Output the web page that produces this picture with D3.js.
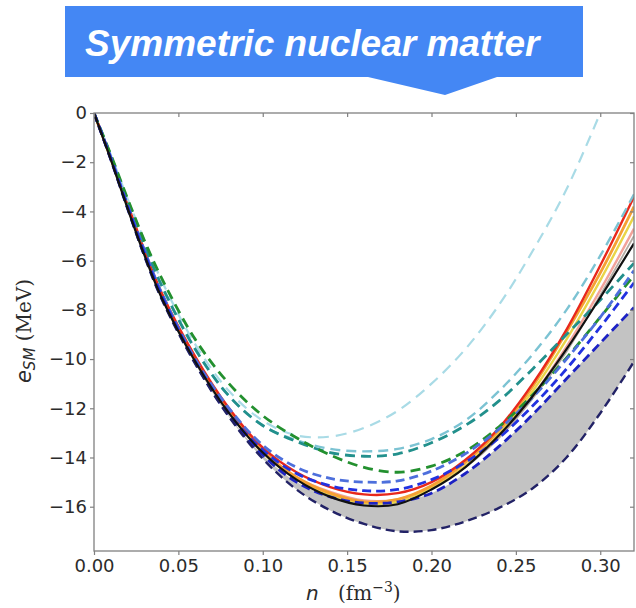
<!DOCTYPE html>
<html>
<head>
<meta charset="utf-8">
<script src="https://cdn.jsdelivr.net/npm/d3@7"></script>
<style>
  html, body { margin: 0; padding: 0; background: #fff; }
  svg { display: block; }
</style>
</head>
<body>
<svg id="chart" width="636" height="608"></svg>
<script>
// Energy per nucleon of symmetric nuclear matter, e_SM(n), for a set of models.
const densities = [0, 0.01, 0.02, 0.03, 0.04, 0.06, 0.08, 0.10, 0.12, 0.14, 0.16, 0.18, 0.20, 0.22, 0.24, 0.26, 0.28, 0.30, 0.32];

// solid curves (MeV)
const blackSolid  = [0, -1.9, -3.9, -5.8, -7.5, -10.1, -12.2, -13.8, -14.9, -15.6, -15.95, -15.9, -15.3, -14.4, -13.1, -11.5, -9.6, -7.5, -5.3];
const redSolid    = [0, -1.8, -3.7, -5.6, -7.3, -9.9, -12.0, -13.6, -14.6, -15.2, -15.5, -15.45, -15.0, -14.1, -12.8, -11.0, -8.8, -6.2, -3.4];
const orangeSolid = [0, -1.85, -3.8, -5.7, -7.4, -10.0, -12.1, -13.75, -14.8, -15.45, -15.8, -15.7, -15.15, -14.2, -12.9, -11.1, -8.9, -6.5, -3.8];
const yellowSolid = [0, -1.85, -3.8, -5.7, -7.4, -10.0, -12.1, -13.8, -14.85, -15.5, -15.85, -15.8, -15.25, -14.35, -13.05, -11.3, -9.2, -6.8, -4.2];
const salmonSolid = [0, -1.85, -3.8, -5.7, -7.4, -10.0, -12.1, -13.7, -14.8, -15.4, -15.75, -15.7, -15.2, -14.35, -13.1, -11.5, -9.5, -7.2, -4.7];
const silverSolid = [0, -1.85, -3.85, -5.75, -7.45, -10.05, -12.15, -13.75, -14.85, -15.5, -15.8, -15.8, -15.25, -14.4, -13.2, -11.6, -9.7, -7.4, -5.0];

// dashed curves (MeV)
const paleCyanDash  = [0, -1.7, -3.5, -5.2, -6.8, -9.4, -11.3, -12.5, -13.1, -13.15, -12.8, -12.1, -11.0, -9.6, -7.8, -5.6, -3.1, 0.0, null];
const lightCyanDash = [0, -1.75, -3.6, -5.4, -7.0, -9.6, -11.5, -12.7, -13.3, -13.65, -13.75, -13.65, -13.25, -12.5, -11.3, -9.8, -8.0, -5.8, -3.3];
const tealDash      = [0, -1.75, -3.6, -5.4, -7.0, -9.6, -11.5, -12.7, -13.35, -13.8, -13.95, -13.85, -13.4, -12.7, -11.7, -10.4, -9.0, -7.6, -6.1];
const greenDash     = [0, -1.7, -3.5, -5.2, -6.7, -9.2, -11.0, -12.3, -13.2, -13.9, -14.4, -14.6, -14.35, -13.75, -12.75, -11.45, -9.95, -8.3, -6.6];
const blueDashA     = [0, -1.8, -3.75, -5.6, -7.3, -10.0, -12.0, -13.5, -14.4, -14.85, -15.0, -14.95, -14.55, -13.85, -12.85, -11.55, -10.0, -8.3, -6.4];
const blueDashB     = [0, -1.85, -3.8, -5.7, -7.4, -10.1, -12.2, -13.7, -14.65, -15.15, -15.35, -15.3, -14.9, -14.2, -13.2, -11.9, -10.4, -8.7, -6.9];
const blueDashC     = [0, -1.9, -3.9, -5.8, -7.5, -10.15, -12.3, -13.9, -15.0, -15.6, -15.85, -15.8, -15.45, -14.65, -13.55, -12.25, -10.8, -9.35, -7.9];
const navyDash      = [0, -1.9, -3.9, -5.85, -7.55, -10.2, -12.35, -14.05, -15.3, -16.15, -16.7, -17.0, -16.95, -16.6, -16.05, -15.25, -14.0, -12.2, -10.1];

// axis ticks
const xTicks = [0, 0.05, 0.10, 0.15, 0.20, 0.25, 0.30];
const yTicks = [0, -2, -4, -6, -8, -10, -12, -14, -16];

const titleText = "Symmetric nuclear matter";

const svg = d3.select("#chart");
const plot = { left: 94, right: 634, top: 113, bottom: 551 };

const x = d3.scaleLinear().domain([0, 0.32]).range([plot.left, plot.right]);
const y = d3.scaleLinear().domain([-17.8, 0]).range([plot.bottom, plot.top]);

const pairs = vals => densities.map((n, i) => [n, vals[i]]);
const curve = d3.curveCatmullRom.alpha(0.5);
const line = d3.line()
  .defined(d => d[1] != null)
  .x(d => x(d[0])).y(d => y(d[1]))
  .curve(curve);

svg.append("defs").append("clipPath").attr("id", "plotClip")
  .append("rect")
  .attr("x", plot.left).attr("y", plot.top)
  .attr("width", plot.right - plot.left).attr("height", plot.bottom - plot.top);

const g = svg.append("g").attr("clip-path", "url(#plotClip)");

// shaded band between the lower two blue curves
const band = d3.area()
  .x((d, i) => x(densities[i]))
  .y0((d, i) => y(navyDash[i]))
  .y1((d, i) => y(blueDashC[i]))
  .curve(curve);
g.append("path").datum(densities).attr("d", band).attr("fill", "#c3c3c3");

const solidSeries = [
  { vals: silverSolid, color: "#b4aca4", width: 1.8 },
  { vals: salmonSolid, color: "#f2a39a", width: 2.4 },
  { vals: yellowSolid, color: "#e9d548", width: 2.4 },
  { vals: orangeSolid, color: "#f5a033", width: 2.8 },
  { vals: redSolid,    color: "#e8281c", width: 2.4 }
];
const dashedSeries = [
  { vals: paleCyanDash,  color: "#a9dbe6", width: 2.2, dash: "11,7" },
  { vals: lightCyanDash, color: "#7cc3d3", width: 2.4, dash: "10,6" },
  { vals: tealDash,      color: "#22908c", width: 2.8, dash: "10,6" },
  { vals: greenDash,     color: "#23902f", width: 2.8, dash: "10,6" },
  { vals: blueDashA,     color: "#4d6fdc", width: 2.8, dash: "9,5" },
  { vals: blueDashB,     color: "#2232e0", width: 2.8, dash: "9,5" },
  { vals: blueDashC,     color: "#1c22c4", width: 2.8, dash: "9,5" },
  { vals: navyDash,      color: "#222266", width: 2.4, dash: "9,5" }
];

solidSeries.forEach(s => {
  g.append("path").datum(pairs(s.vals)).attr("d", line)
    .attr("fill", "none").attr("stroke", s.color).attr("stroke-width", s.width);
});
dashedSeries.forEach(s => {
  g.append("path").datum(pairs(s.vals)).attr("d", line)
    .attr("fill", "none").attr("stroke", s.color).attr("stroke-width", s.width)
    .attr("stroke-dasharray", s.dash);
});
g.append("path").datum(pairs(blackSolid)).attr("d", line)
  .attr("fill", "none").attr("stroke", "#111").attr("stroke-width", 2.2);

// axes
const axisColor = "#808080";
const fmtY = d => d === 0 ? "0" : "\u2212" + Math.abs(d);
const fmtX = d3.format(".2f");

const axisL = svg.append("g").attr("transform", `translate(${plot.left},0)`)
  .call(d3.axisLeft(y).tickValues(yTicks).tickSize(4).tickPadding(3).tickFormat(fmtY));
const axisB = svg.append("g").attr("transform", `translate(0,${plot.bottom})`)
  .call(d3.axisBottom(x).tickValues(xTicks).tickSize(4).tickPadding(4).tickFormat(fmtX));
const axisT = svg.append("g").attr("transform", `translate(0,${plot.top})`)
  .call(d3.axisTop(x).tickValues(xTicks).tickSize(-4).tickFormat(""));
const axisR = svg.append("g").attr("transform", `translate(${plot.right},0)`)
  .call(d3.axisRight(y).tickValues(yTicks).tickSize(-4).tickFormat(""));

[axisL, axisB, axisT, axisR].forEach(a => {
  a.select(".domain").remove();
  a.selectAll(".tick line").attr("stroke", axisColor).attr("stroke-width", 1.2);
  a.selectAll(".tick text")
    .attr("fill", "#2b2b2b")
    .style("font-family", "'DejaVu Sans', sans-serif")
    .style("font-size", "18px");
});

svg.append("rect")
  .attr("x", plot.left).attr("y", plot.top)
  .attr("width", plot.right - plot.left).attr("height", plot.bottom - plot.top)
  .attr("fill", "none").attr("stroke", axisColor).attr("stroke-width", 1.3);

// axis labels
const xl = svg.append("text").attr("y", 600).attr("fill", "#2b2b2b");
xl.append("tspan").attr("x", 306)
  .style("font-family", "'DejaVu Sans', sans-serif").style("font-style", "italic").style("font-size", "20px")
  .text("n");
xl.append("tspan").attr("x", 338)
  .style("font-family", "'DejaVu Serif', serif").style("font-size", "20px")
  .text("(fm");
xl.append("tspan").attr("dy", -8)
  .style("font-family", "'DejaVu Serif', serif").style("font-size", "14px")
  .text("\u22123");
xl.append("tspan").attr("dy", 8)
  .style("font-family", "'DejaVu Serif', serif").style("font-size", "20px")
  .text(")");

const yl = svg.append("text")
  .attr("transform", "translate(31,331) rotate(-90)")
  .attr("text-anchor", "middle").attr("fill", "#2b2b2b");
yl.append("tspan")
  .style("font-family", "'DejaVu Sans', sans-serif").style("font-style", "italic").style("font-size", "21px")
  .text("e");
yl.append("tspan").attr("dy", 4)
  .style("font-family", "'DejaVu Sans', sans-serif").style("font-style", "italic").style("font-size", "15px")
  .text("SM");
yl.append("tspan").attr("dy", -4)
  .style("font-family", "'DejaVu Serif', serif").style("font-size", "20px")
  .text(" (MeV)");

// title callout
const banner = { x0: 65, x1: 583, y0: 6, y1: 77, p0: 368, tip: 445, p1: 497, tipY: 95 };
svg.append("path")
  .attr("d", `M${banner.x0},${banner.y0}H${banner.x1}V${banner.y1}H${banner.p1}L${banner.tip},${banner.tipY}L${banner.p0},${banner.y1}H${banner.x0}Z`)
  .attr("fill", "#4487f4");
svg.append("text")
  .attr("x", 85).attr("y", 56)
  .attr("fill", "#fff")
  .style("font-family", "'Liberation Sans', Arial, sans-serif")
  .style("font-weight", "bold").style("font-style", "italic").style("font-size", "37px")
  .text(titleText);
</script>
</body>
</html>
